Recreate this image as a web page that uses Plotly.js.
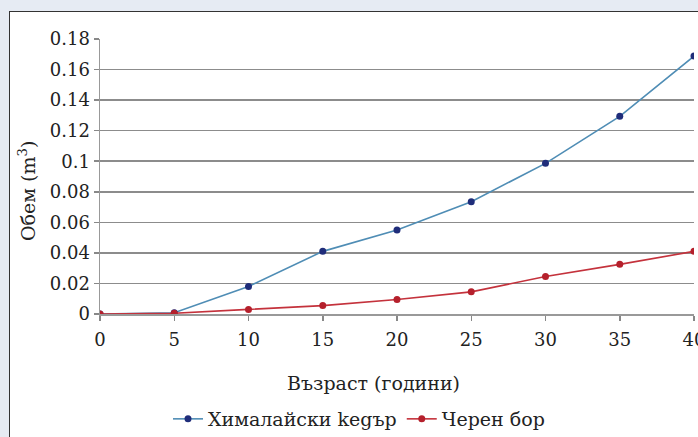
<!DOCTYPE html>
<html>
<head>
<meta charset="utf-8">
<script src="https://cdn.plot.ly/plotly-3.0.1.min.js"></script>
<style>
  html, body { margin:0; padding:0; background:#e6ebf3; width:698px; height:437px; overflow:hidden; }
  #panel { position:absolute; left:9px; top:11px; width:700px; height:440px; background:#ffffff;
           border-left:1.5px solid #333; border-top:1.5px solid #333; }
  #chart { position:absolute; left:0; top:0; width:730px; height:437px; }
</style>
</head>
<body>
<div id="panel"></div>
<div id="chart"></div>
<script>
const ages = [0, 5, 10, 15, 20, 25, 30, 35, 40];
const cedar = [0, 0.0008, 0.018, 0.041, 0.055, 0.0735, 0.0986, 0.1294, 0.1688];
const pine = [0, 0.0005, 0.003, 0.0055, 0.0095, 0.0145, 0.0245, 0.0325, 0.041];
const seriesNames = ['Хималайски kegър', 'Черен бор'];
const xTitle = 'Възраст (години)';
const yTitle = 'Обем (m<sup>3</sup>)';

const font = 'DejaVu Serif, serif';
const fs = 18;
const fsT = 19;

const traces = [
  { x: ages, y: cedar, name: seriesNames[0], type: 'scatter', mode: 'lines+markers',
    line: { color: '#4f8db5', width: 1.6 }, marker: { color: '#1f2d7a', size: 7 } },
  { x: ages, y: pine, name: seriesNames[1], type: 'scatter', mode: 'lines+markers',
    line: { color: '#c4323c', width: 1.6 }, marker: { color: '#b5202c', size: 7 } }
];

const layout = {
  width: 730, height: 437,
  paper_bgcolor: 'rgba(0,0,0,0)', plot_bgcolor: 'rgba(0,0,0,0)',
  margin: { l: 100, r: 36, t: 39, b: 123, autoexpand: false },
  font: { family: font, size: fs, color: '#222' },
  showlegend: true,
  legend: { orientation: 'h', x: (168 - 100) / 594, xanchor: 'left', y: -(419 - 314) / 275, yanchor: 'middle',
            font: { family: font, size: fsT, color: '#222' }, bgcolor: 'rgba(0,0,0,0)' },
  xaxis: { range: [0, 40], tickvals: ages, ticks: 'outside', ticklen: 5, tickcolor: '#888',
           tickwidth: 1.5, showgrid: false, zeroline: false, showline: true, automargin: false,
           ticklabelstandoff: 4,
           linecolor: '#999', linewidth: 1.5, tickfont: { family: font, size: fs, color: '#222' } },
  yaxis: { range: [0, 0.18], dtick: 0.02, tick0: 0, ticks: 'outside', ticklen: 5, tickcolor: '#888',
           tickwidth: 1.5, showgrid: true, gridcolor: '#8c8c8c', gridwidth: 1.5, zeroline: false,
           showline: true, linecolor: '#999', linewidth: 1.5, automargin: false,
           tickfont: { family: font, size: fs, color: '#222' } },
  annotations: [
    { text: xTitle, xref: 'paper', yref: 'paper', x: (373 - 100) / 594, y: -(383 - 314) / 275,
      xanchor: 'center', yanchor: 'middle', showarrow: false,
      font: { family: font, size: fsT, color: '#222' } },
    { text: yTitle, xref: 'paper', yref: 'paper', x: (27 - 100) / 594, y: (314 - 191) / 275,
      xanchor: 'center', yanchor: 'middle', showarrow: false, textangle: -90,
      font: { family: font, size: fsT, color: '#222' } }
  ]
};

Plotly.newPlot('chart', traces, layout, { displayModeBar: false, staticPlot: true });
</script>
</body>
</html>
